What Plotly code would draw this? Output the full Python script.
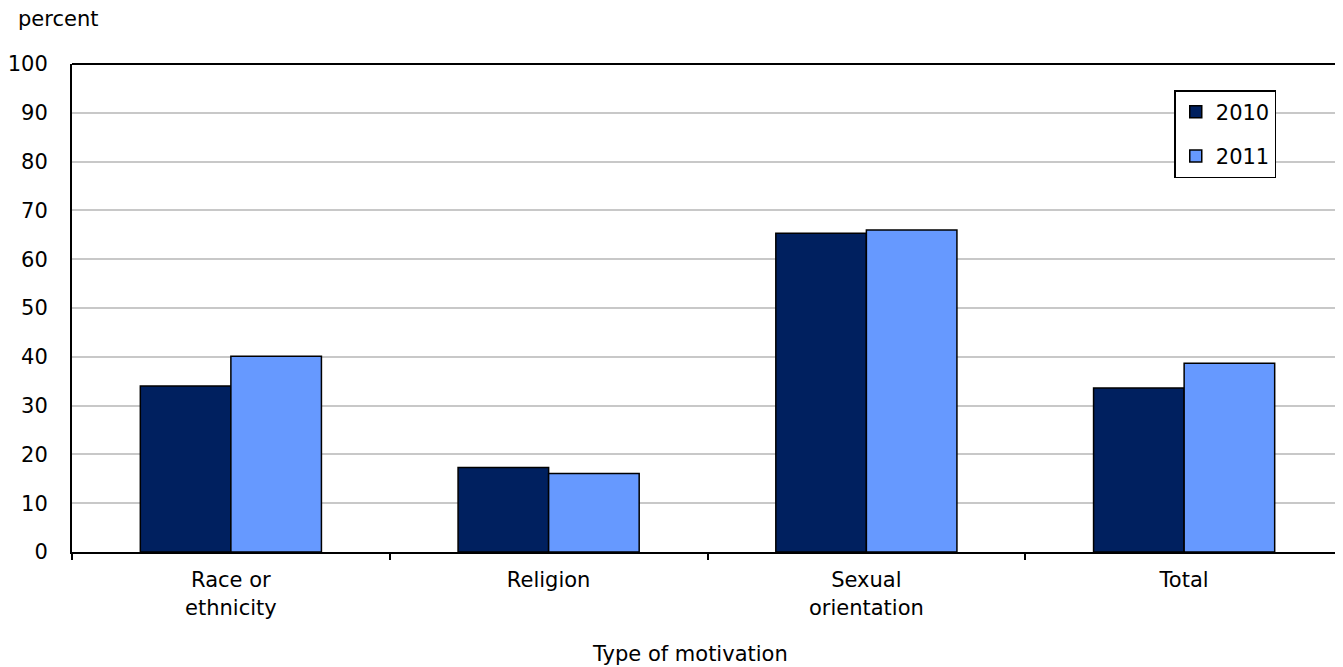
import plotly.graph_objects as go

categories = ["Race or<br>ethnicity", "Religion", "Sexual<br>orientation", "Total"]
values_2010 = [34.0, 17.3, 65.3, 33.6]
values_2011 = [40.1, 16.1, 66.0, 38.7]
y_ticks = list(range(0, 101, 10))

FONT = "DejaVu Sans"
OFF = 8  # page body margin offset
W, H = 1343 - OFF, 667 - OFF
L, R, T, B = 70 - OFF, 0, 64 - OFF, 667 - 552
pw = W - L - R
ph = H - T - B


def px(xp):
    return (xp - OFF - L) / pw


def py(yp):
    return (H - B - (yp - OFF)) / ph


fig = go.Figure()
fig.add_trace(go.Bar(x=categories, y=values_2010, name="2010", legendgroup="a",
                     marker=dict(color="#00205F", line=dict(color="#000000", width=1.5))))
fig.add_trace(go.Bar(x=categories, y=values_2011, name="2011", legendgroup="b",
                     marker=dict(color="#6699FF", line=dict(color="#000000", width=1.5))))

fig.update_layout(
    width=W, height=H,
    margin=dict(l=L, r=R, t=T, b=B),
    paper_bgcolor="white", plot_bgcolor="white",
    font=dict(family=FONT, size=21, color="#000000"),
    barmode="group", bargap=0.43, bargroupgap=0,
    showlegend=True,
    legend=dict(x=px(1174), y=py(90), xanchor="left", yanchor="top",
                bgcolor="white", bordercolor="#000000", borderwidth=1.5,
                tracegroupgap=14, entrywidth=84, entrywidthmode="pixels",
                font=dict(family=FONT, size=21)),
    xaxis=dict(range=[-0.5, 3.5], showline=True, linecolor="#000000", linewidth=2,
               ticks="outside", tickson="boundaries", ticklen=6, tickcolor="#000000",
               tickwidth=1.5, showgrid=False, zeroline=False, fixedrange=True,
               ticklabelstandoff=8),
    yaxis=dict(range=[0, 100], tickvals=y_ticks, showline=True, linecolor="#000000",
               linewidth=2, showgrid=True, gridcolor="#C8C8C8", gridwidth=2,
               zeroline=False, ticks="", ticklabelstandoff=18, fixedrange=True),
    shapes=[dict(type="line", xref="paper", yref="paper", x0=0, x1=1, y0=1, y1=1,
                 line=dict(color="#000000", width=2))],
    annotations=[
        dict(text="percent", xref="paper", yref="paper", x=px(14),
             y=py(19), xanchor="left", yanchor="middle", showarrow=False),
        dict(text="Type of motivation", xref="paper", yref="paper", x=px(689),
             y=py(654), xanchor="center", yanchor="middle", showarrow=False),
    ],
)

fig.write_html("out.html")
